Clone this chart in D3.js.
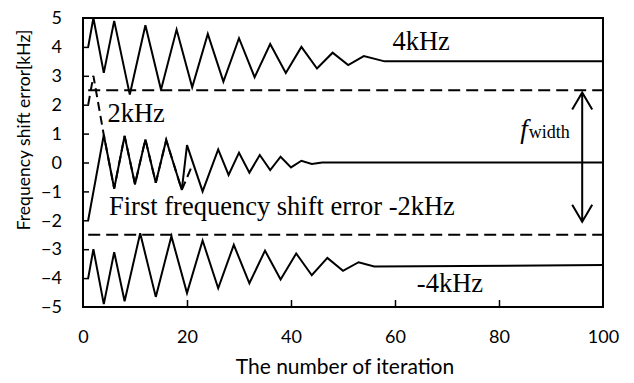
<!DOCTYPE html>
<html><head><meta charset="utf-8">
<script src="https://cdn.jsdelivr.net/npm/d3@7"></script>
<style>body{margin:0;background:#fff}svg{display:block}</style>
</head><body><svg id="c" width="634" height="383"></svg>
<script>
const xTicks = [0, 20, 40, 60, 80, 100];
const yTicks = [-5, -4, -3, -2, -1, 0, 1, 2, 3, 4, 5];
const xTitle = "The number of iteration";
const yTitle = "Frequency shift error[kHz]";

const series4k = [[1,4],[2,5],[4,3.1],[6,4.9],[9,2.35],[12,4.75],[15,2.52],[18,4.6],[21,2.6],[24,4.45],[27,2.8],[30,4.3],[33,2.95],[36,4.1],[39,3.1],[42,4.0],[45,3.25],[48,3.8],[51,3.37],[54,3.68],[58,3.5],[100,3.5]];
const seriesM4k = [[1,-4],[2,-3],[4,-4.9],[6,-3.1],[8,-4.8],[11,-2.45],[14,-4.65],[17,-2.55],[20,-4.52],[23,-2.7],[26,-4.35],[29,-2.85],[32,-4.18],[35,-3.05],[38,-4.05],[41,-3.15],[44,-3.9],[47,-3.3],[50,-3.75],[53,-3.45],[56,-3.6],[100,-3.55]];
const seriesM2k = [[1,-2],[4,0.95],[6,-0.9],[8,0.92],[10,-0.75],[12,0.8],[14,-0.7],[16,0.78],[19,-0.95],[20,0.6],[23,-1.0],[26,0.45],[28,-0.43],[30,0.34],[32,-0.35],[34,0.26],[36,-0.26],[38,0.2],[40,-0.17],[42,0.06],[44,-0.05],[46,0],[100,0]];
const series2k = [[1,2],[2,3],[4,0.95],[6,-0.9],[8,0.92],[10,-0.75],[12,0.8],[14,-0.7],[16,0.78],[19,-0.95],[21,-0.1]];
const upperLimit = [[1,2.5],[100,2.5]];
const lowerLimit = [[1,-2.5],[100,-2.5]];
const arrowSpan = {x: 96, top: 2.42, bottom: -2.05};

const labels = [
  {text: "4kHz", x: 59.5, y: 3.9},
  {text: "2kHz", x: 4.7, y: 1.4},
  {text: "First frequency shift error -2kHz", x: 5, y: -1.83},
  {text: "-4kHz", x: 64.2, y: -4.47}
];

const W = 634, H = 383;
const m = {left: 83, right: 31, top: 18, bottom: 76};
const svg = d3.select("#c");
const x = d3.scaleLinear().domain([0, 100]).range([m.left, W - m.right]);
const y = d3.scaleLinear().domain([-5, 5]).range([H - m.bottom, m.top]);

const line = d3.line().x(d => x(d[0])).y(d => y(d[1]));
const sans = "Lato, 'Open Sans', sans-serif";
const serif = "'Liberation Serif', 'Times New Roman', serif";

// axes (ticks inside)
const xAxis = d3.axisBottom(x).tickValues(xTicks).tickSize(-7).tickPadding(23).tickFormat(d3.format("d"));
const yAxis = d3.axisLeft(y).tickValues(yTicks).tickSize(-6).tickPadding(21).tickFormat(d3.format("d"));

const gx = svg.append("g").attr("transform", `translate(0,${H - m.bottom})`).call(xAxis);
const gy = svg.append("g").attr("transform", `translate(${m.left},0)`).call(yAxis);
[gx, gy].forEach(g => {
  g.select(".domain").remove();
  g.selectAll(".tick line").attr("stroke", "#000").attr("stroke-width", 1.5);
  g.selectAll(".tick text").attr("font-family", sans).attr("font-size", 18).attr("fill", "#000");
});
gy.selectAll(".tick").filter(d => d === 5 || d === -5).select("line").remove();
gx.selectAll(".tick").filter(d => d === 0 || d === 100).select("line").remove();

// frame
svg.append("rect").attr("x", x(0)).attr("y", y(5)).attr("width", x(100) - x(0)).attr("height", y(-5) - y(5))
  .attr("fill", "none").attr("stroke", "#000").attr("stroke-width", 2);

// axis titles
svg.append("text").attr("x", 345).attr("y", 374).attr("text-anchor", "middle")
  .attr("font-family", sans).attr("font-size", 21).attr("fill", "#000").text(xTitle);
svg.append("text").attr("transform", `translate(30,130) rotate(-90)`).attr("text-anchor", "middle")
  .attr("font-family", sans).attr("font-size", 17.5).attr("fill", "#000").text(yTitle);

// threshold dashed lines
[upperLimit, lowerLimit].forEach(s => svg.append("path").attr("d", line(s)).attr("fill", "none")
  .attr("stroke", "#000").attr("stroke-width", 2).attr("stroke-dasharray", "12,6"));

// series
svg.append("path").attr("d", line(series2k)).attr("fill", "none").attr("stroke", "#000")
  .attr("stroke-width", 2).attr("stroke-dasharray", "9,5");
[series4k, seriesM2k, seriesM4k].forEach(s => svg.append("path").attr("d", line(s)).attr("fill", "none")
  .attr("stroke", "#000").attr("stroke-width", 2).attr("stroke-linejoin", "miter"));

// labels
labels.forEach(l => svg.append("text").attr("x", x(l.x)).attr("y", y(l.y))
  .attr("font-family", serif).attr("font-size", 26.5).attr("fill", "#000").text(l.text));

// f_width arrow
const ax = x(arrowSpan.x), at = y(arrowSpan.top), ab = y(arrowSpan.bottom);
svg.append("path").attr("d", `M${ax},${at}L${ax},${ab}M${ax-10},${at+17}L${ax},${at}L${ax+10},${at+17}M${ax-10},${ab-17}L${ax},${ab}L${ax+10},${ab-17}`)
  .attr("fill", "none").attr("stroke", "#000").attr("stroke-width", 2);
const fw = svg.append("text").attr("x", ax - 62).attr("y", y(0.85))
  .attr("font-family", serif).attr("fill", "#000");
fw.append("tspan").attr("font-style", "italic").attr("font-size", 27).text("f");
fw.append("tspan").attr("font-size", 18).attr("dx", 1).text("width");
</script></body></html>
